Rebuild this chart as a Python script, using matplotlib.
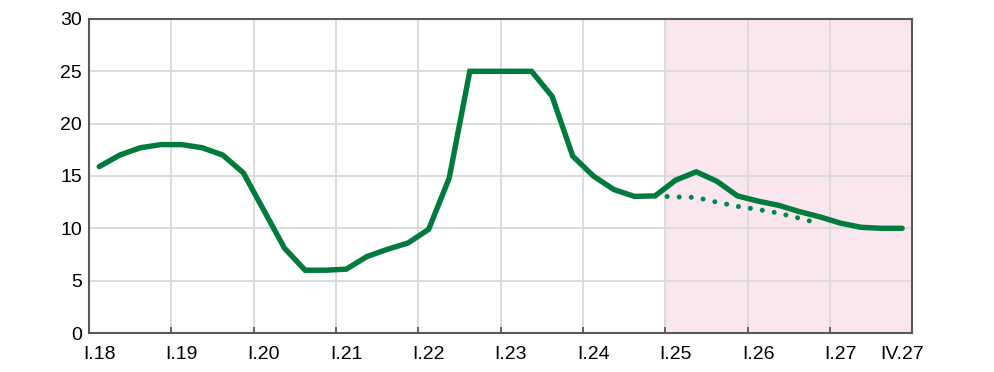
import numpy as np
import matplotlib
matplotlib.use("Agg")
import matplotlib.pyplot as plt

plt.rcParams["font.family"] = ["Liberation Sans", "DejaVu Sans"]

# quarterly series, I.18 .. IV.27
main = [15.9, 17.0, 17.7, 18.0, 18.0, 17.7, 17.0, 15.3,
        11.7, 8.1, 6.0, 6.0, 6.1, 7.3, 8.0, 8.6,
        9.9, 14.8, 25.0, 25.0, 25.0, 25.0, 22.6, 16.9,
        15.0, 13.7, 13.05, 13.1, 14.6, 15.4, 14.5, 13.1,
        12.6, 12.2, 11.6, 11.1, 10.5, 10.1, 10.0, 10.0]
# alternative path, IV.24 .. IV.26
alt_start = 27
alt = [13.1, 13.0, 12.95, 12.5, 12.1, 11.8, 11.45, 10.97, 10.45]

tick_idx = [0, 4, 8, 12, 16, 20, 24, 28, 32, 36, 39]
tick_lbl = ["I.18", "I.19", "I.20", "I.21", "I.22", "I.23", "I.24",
            "I.25", "I.26", "I.27", "IV.27"]

green = "#007A3D"

fig = plt.figure(figsize=(9.95, 3.72), dpi=100)
ax = fig.add_axes([0.0894, 0.1048, 0.8276, 0.8442])

x = np.arange(len(main)) + 0.5
xa = np.arange(alt_start, alt_start + len(alt)) + 0.5

ax.axvspan(28, 40, color="#FAE6EE", zorder=0, lw=0)
ax.plot(x, main, color=green, lw=3.9, solid_capstyle="round",
        solid_joinstyle="miter", zorder=3)
ax.plot(xa, alt, color="#00884A", lw=3.6, linestyle=(0, (0.01, 2.4)),
        dash_capstyle="round", zorder=2)

ax.set_xlim(0, 40)
ax.set_ylim(0, 30)
ax.set_yticks(np.arange(0, 31, 5))
ax.set_xticks([i + 0.5 for i in tick_idx])
ax.set_xticklabels(tick_lbl)
ax.set_xticks(np.arange(4, 40, 4), minor=True)

ax.grid(axis="y", which="major", color="#D9D9D9", lw=1.3, zorder=1)
ax.grid(axis="x", which="minor", color="#D9D9D9", lw=1.3, zorder=1)
ax.set_axisbelow(True)

ax.tick_params(axis="x", which="major", length=0, pad=9, labelsize=14)
ax.tick_params(axis="x", which="minor", direction="in", length=4,
               width=1.3, color="#595959")
ax.tick_params(axis="y", length=0, pad=5, labelsize=14)

for s in ax.spines.values():
    s.set_color("#595959")
    s.set_linewidth(1.5)

fig.savefig("out.png", dpi=100)
